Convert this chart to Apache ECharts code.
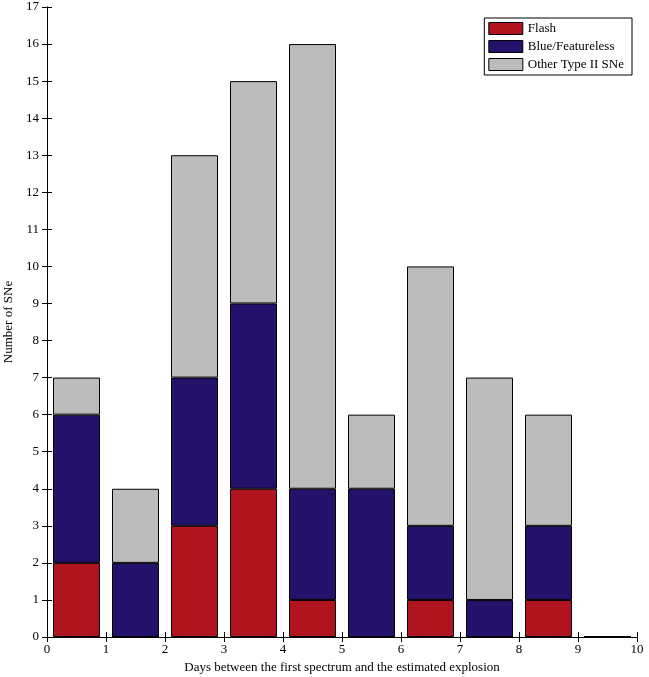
<!DOCTYPE html>
<html><head><meta charset="utf-8">
<script src="https://cdn.jsdelivr.net/npm/echarts@6/dist/echarts.min.js"></script>
<style>html,body{margin:0;padding:0;background:#fff}#c{width:649px;height:677px}</style>
</head><body><div id="c"></div>
<script>
const bins=['0-1','1-2','2-3','3-4','4-5','5-6','6-7','7-8','8-9','9-10'];
const flash=[2,0,3,4,1,0,1,0,1,0];
const blue=[4,2,4,5,3,4,2,1,2,0];
const other=[1,2,6,6,12,2,7,6,3,0];
const names=['Flash','Blue/Featureless','Other Type II SNe'];
const colors=['#b0141e','#24116b','#bcbcbc'];
const font='Liberation Serif';
const mk=(n,i,vals)=>({name:n,type:'bar',stack:'s',barWidth:47,xAxisIndex:2,
 data:vals,itemStyle:{color:colors[i],borderColor:'#000',borderWidth:1}});
const axX={type:'value',min:0,max:10,interval:1,axisLine:{lineStyle:{color:'#000'}},
 axisTick:{inside:true,length:5,lineStyle:{color:'#000'}},splitLine:{show:false}};
const axY={type:'value',min:0,max:17,interval:1,axisLine:{show:true,lineStyle:{color:'#000'}},
 axisTick:{inside:true,length:5,lineStyle:{color:'#000'}},splitLine:{show:false}};
const chart=echarts.init(document.getElementById('c'));
chart.setOption({
 animation:false,
 textStyle:{fontFamily:font},
 grid:{left:47,right:12,top:7,bottom:40,outerBoundsMode:'none',containLabel:false},
 legend:{right:17,top:18,orient:'vertical',itemGap:5,itemWidth:34,itemHeight:12,icon:'rect',
  borderColor:'#000',borderWidth:1,padding:[4,8,4,4],backgroundColor:'#fff',
  textStyle:{fontFamily:font,fontSize:13,color:'#000'},data:names,
  itemStyle:{borderColor:'#000',borderWidth:1}},
 xAxis:[Object.assign({},axX,{name:'Days between the first spectrum and the estimated explosion',nameLocation:'middle',nameGap:22,
   nameTextStyle:{fontFamily:font,fontSize:13,color:'#000'},axisLabel:{fontFamily:font,fontSize:13,color:'#000',margin:6}}),
  Object.assign({},axX,{position:'top',axisLabel:{show:false}}),
  {type:'category',data:bins,show:false,boundaryGap:true}],
 yAxis:[Object.assign({},axY,{name:'Number of SNe',nameLocation:'middle',nameGap:25,
   nameTextStyle:{fontFamily:font,fontSize:13,color:'#000'},axisLabel:{fontFamily:font,fontSize:13,color:'#000',margin:8}}),
  Object.assign({},axY,{position:'right',axisLabel:{show:false}})],
 series:[mk(names[0],0,flash),mk(names[1],1,blue),mk(names[2],2,other)]
});
</script></body></html>
